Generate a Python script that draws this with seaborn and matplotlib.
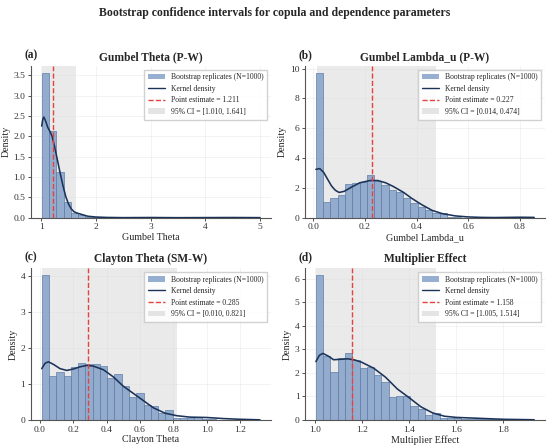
import numpy as np
import pandas as pd
import matplotlib
matplotlib.use("Agg")
import matplotlib.pyplot as plt
import seaborn as sns
from matplotlib.patches import Patch
from matplotlib.lines import Line2D

# histogram densities (30 bins per panel)
theta_gumbel_range = (1.010, 5.000)
theta_gumbel_hist = [3.55, 2.13, 1.13, 0.40, 0.13, 0.07, 0.03, 0.02, 0.01, 0.01,
                     0.0, 0.0, 0.0, 0.0, 0.01, 0.0, 0.0, 0.0, 0.0, 0.0,
                     0.0, 0.01, 0.0, 0.0, 0.0, 0.0, 0.01, 0.0, 0.0, 0.01]
theta_gumbel_kde_x = [1.01, 1.03, 1.05, 1.08, 1.12, 1.16, 1.20, 1.25, 1.30, 1.35, 1.40,
                      1.45, 1.50, 1.55, 1.60, 1.65, 1.75, 1.85, 2.0, 2.2, 2.5, 3.0,
                      3.5, 4.0, 4.5, 5.0]
theta_gumbel_kde_y = [2.25, 2.42, 2.47, 2.38, 2.22, 2.12, 2.0, 1.72, 1.40, 1.08, 0.78,
                      0.52, 0.34, 0.22, 0.15, 0.12, 0.08, 0.04, 0.02, 0.01, 0.005, 0.008,
                      0.004, 0.006, 0.008, 0.005]

lambda_range = (0.010, 0.855)
lambda_hist = [9.7, 1.05, 1.3, 1.5, 2.25, 2.35, 2.4, 2.9, 2.5, 2.2,
               1.85, 1.75, 1.35, 1.0, 0.75, 0.5, 0.3, 0.35, 0.07, 0.04,
               0.0, 0.0, 0.0, 0.04, 0.0, 0.0, 0.0, 0.0, 0.0, 0.04]
lambda_kde_x = [0.010, 0.025, 0.040, 0.055, 0.070, 0.085, 0.100, 0.120, 0.150, 0.180,
                0.220, 0.250, 0.280, 0.310, 0.350, 0.380, 0.420, 0.460, 0.500, 0.550,
                0.600, 0.650, 0.700, 0.750, 0.800, 0.855]
lambda_kde_y = [3.25, 3.3, 3.05, 2.6, 2.15, 1.85, 1.7, 1.78, 2.08, 2.35,
                2.5, 2.5, 2.35, 2.1, 1.7, 1.32, 0.88, 0.5, 0.28, 0.13,
                0.06, 0.03, 0.02, 0.03, 0.04, 0.03]

clayton_range = (0.010, 1.320)
clayton_hist = [4.03, 1.22, 1.35, 1.22, 1.48, 1.6, 1.57, 1.55, 1.5, 1.18,
                1.28, 0.95, 0.63, 0.75, 0.42, 0.38, 0.2, 0.27, 0.06, 0.05,
                0.06, 0.09, 0.03, 0.02, 0.01, 0.0, 0.0, 0.01, 0.0, 0.01]
clayton_kde_x = [0.01, 0.03, 0.05, 0.08, 0.12, 0.16, 0.20, 0.24, 0.28, 0.32,
                 0.38, 0.44, 0.50, 0.56, 0.62, 0.68, 0.75, 0.82, 0.90, 1.00,
                 1.10, 1.20, 1.32]
clayton_kde_y = [1.43, 1.58, 1.62, 1.55, 1.43, 1.38, 1.42, 1.48, 1.52, 1.5,
                 1.4, 1.2, 0.94, 0.74, 0.54, 0.34, 0.19, 0.12, 0.08, 0.07,
                 0.04, 0.02, 0.005]

mult_range = (1.005, 1.930)
mult_hist = [6.15, 2.7, 2.06, 2.64, 2.86, 2.56, 2.19, 2.26, 1.93, 1.6,
             0.99, 1.03, 1.03, 0.6, 0.45, 0.22, 0.31, 0.1, 0.08, 0.08,
             0.06, 0.05, 0.04, 0.03, 0.03, 0.02, 0.02, 0.01, 0.01, 0.01]
mult_kde_x = [1.005, 1.02, 1.035, 1.06, 1.08, 1.11, 1.14, 1.17, 1.20, 1.25,
              1.30, 1.35, 1.40, 1.45, 1.50, 1.55, 1.60, 1.70, 1.80, 1.93]
mult_kde_y = [2.48, 2.75, 2.83, 2.7, 2.56, 2.58, 2.6, 2.55, 2.45, 2.2,
              1.82, 1.32, 0.95, 0.56, 0.3, 0.16, 0.11, 0.07, 0.03, 0.01]

panel_letters = ["(a)", "(b)", "(c)", "(d)"]
panel_titles = ["Gumbel Theta (P-W)", "Gumbel Lambda_u (P-W)", "Clayton Theta (SM-W)", "Multiplier Effect"]
x_labels = ["Gumbel Theta", "Gumbel Lambda_u", "Clayton Theta", "Multiplier Effect"]
point_estimates = [1.211, 0.227, 0.285, 1.158]
ci_low = [1.010, 0.014, 0.010, 1.005]
ci_high = [1.641, 0.474, 0.821, 1.514]
n_boot = 1000

x_ticks = [[1, 2, 3, 4, 5], [0.0, 0.2, 0.4, 0.6, 0.8],
           [0.0, 0.2, 0.4, 0.6, 0.8, 1.0, 1.2], [1.0, 1.2, 1.4, 1.6, 1.8]]
y_ticks = [[0.0, 0.5, 1.0, 1.5, 2.0, 2.5, 3.0, 3.5], [0, 2, 4, 6, 8, 10],
           [0, 1, 2, 3, 4], [0, 1, 2, 3, 4, 5, 6]]
x_fmt = ["{:.0f}", "{:.1f}", "{:.1f}", "{:.1f}"]
y_fmt = ["{:.1f}", "{:.0f}", "{:.0f}", "{:.0f}"]

panels = [
    (theta_gumbel_range, theta_gumbel_hist, theta_gumbel_kde_x, theta_gumbel_kde_y),
    (lambda_range, lambda_hist, lambda_kde_x, lambda_kde_y),
    (clayton_range, clayton_hist, clayton_kde_x, clayton_kde_y),
    (mult_range, mult_hist, mult_kde_x, mult_kde_y),
]

sns.set_style("ticks")
plt.rcParams['font.family'] = ['Liberation Serif', 'DejaVu Serif']

bar_color = "#7d9cc6"
kde_color = "#1b3358"
red = "#e8403f"

fig, axes = plt.subplots(2, 2, figsize=(5.5, 4.48), dpi=100)
fig.subplots_adjust(left=0.056, right=0.991, top=0.853, bottom=0.0625, hspace=0.33, wspace=0.142)

for i, ax in enumerate(axes.flat):
    rng, hist, kx, ky = panels[i]
    edges = np.linspace(rng[0], rng[1], len(hist) + 1)
    centers = (edges[:-1] + edges[1:]) / 2
    df = pd.DataFrame({"x": centers, "w": hist})

    ax.axvspan(ci_low[i], ci_high[i], color="#e4e4e4", alpha=0.75, lw=0, zorder=0)
    sns.histplot(data=df, x="x", weights="w", bins=list(edges), stat="count", ax=ax,
                 color=bar_color, alpha=0.8, edgecolor="#5f7ea8", linewidth=0.5, zorder=2)
    sns.lineplot(x=kx, y=ky, ax=ax, color=kde_color, lw=1.15, zorder=3)
    ax.axvline(point_estimates[i], color=red, ls="--", lw=1.0, zorder=4)

    ax.grid(True, color="#dddddd", lw=0.4, alpha=0.6)
    ax.set_axisbelow(True)
    sns.despine(ax=ax)
    for s in ["left", "bottom"]:
        ax.spines[s].set_color("#555555")
        ax.spines[s].set_linewidth(0.8)

    ax.set_xticks(x_ticks[i])
    ax.set_xticklabels([x_fmt[i].format(v) for v in x_ticks[i]])
    ax.set_yticks(y_ticks[i])
    ax.set_yticklabels([y_fmt[i].format(v) for v in y_ticks[i]])
    ax.tick_params(labelsize=6.8, length=2.5, width=0.6, pad=1.5, colors="#333333")
    ax.set_ylim(0, max(hist) * 1.05)

    ax.set_xlabel(x_labels[i], fontsize=7.2, labelpad=1)
    ax.set_ylabel("Density", fontsize=7.2, labelpad=2)
    ax.set_title(panel_titles[i], fontsize=8.3, fontweight="bold", pad=4)
    ax.text(-0.025, 1.028, panel_letters[i], transform=ax.transAxes,
            fontsize=8.3, fontweight="bold", va="bottom")

    handles = [
        Patch(facecolor=bar_color, alpha=0.8, edgecolor="none"),
        Line2D([0], [0], color=kde_color, lw=1.0),
        Line2D([0], [0], color=red, ls="--", lw=1.0),
        Patch(facecolor="#e4e4e4", edgecolor="none"),
    ]
    labels = [
        f"Bootstrap replicates (N={n_boot})",
        "Kernel density",
        f"Point estimate = {point_estimates[i]:.3f}",
        f"95% CI = [{ci_low[i]:.3f}, {ci_high[i]:.3f}]",
    ]
    ax.legend(handles, labels, loc="upper right", fontsize=5.5, frameon=True,
              framealpha=0.9, edgecolor="#cccccc", fancybox=False,
              handlelength=2.2, handletextpad=0.8, borderpad=0.5, labelspacing=0.45)

fig.suptitle("Bootstrap confidence intervals for copula and dependence parameters",
             fontsize=8.5, fontweight="bold", y=0.985)

fig.savefig("out.png", dpi=100)
